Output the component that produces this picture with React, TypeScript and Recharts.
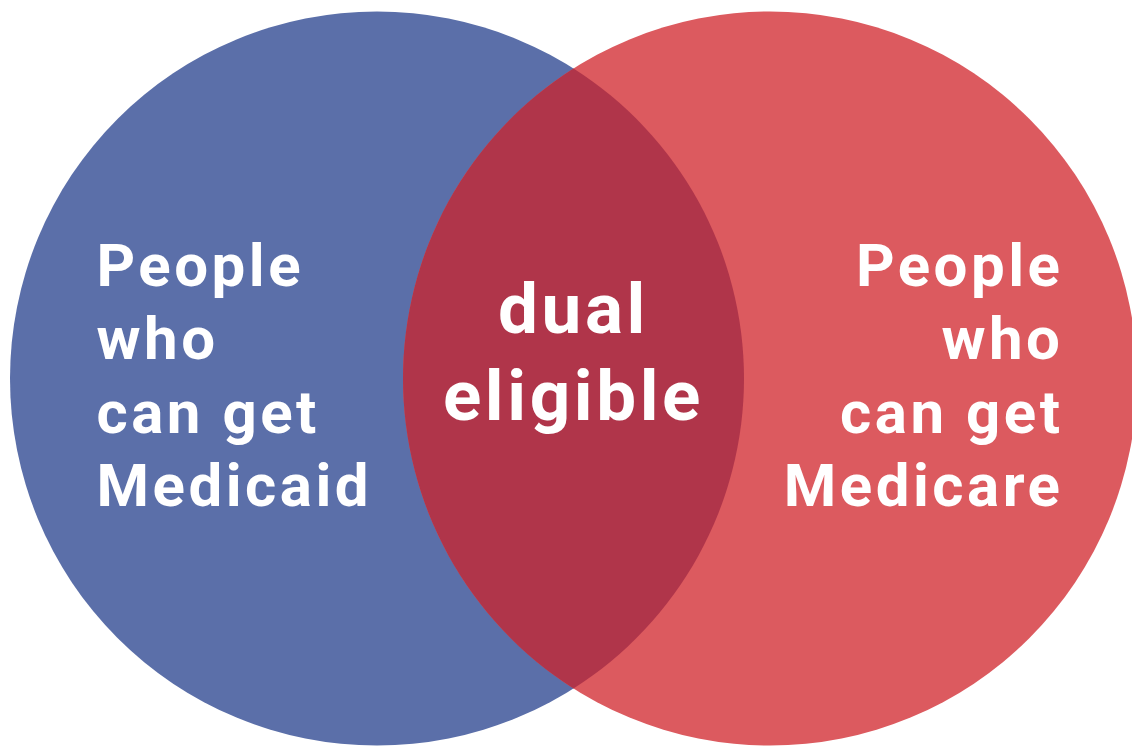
import React from 'react';
import { ScatterChart, Scatter, XAxis, YAxis } from 'recharts';

// Venn sets: center (x, y) and radius r, in chart units (1 unit = 1 px)
const setNames = ['Medicaid', 'Medicare'];
const setX = [377, 770];
const setY = [378.5, 378.5];
const setR = [367, 367];
const setColors = ['#5B6FA9', '#DC5A5F'];
const overlapColor = '#B0354A';

const leftLabel = ['People', 'who', 'can get', 'Medicaid'];
const rightLabel = ['People', 'who', 'can get', 'Medicare'];
const centerLabel = ['dual', 'eligible'];

const W = 1132;
const H = 746;

const circles = setNames.map((name, i) => ({
  name,
  x: setX[i],
  y: setY[i],
  r: setR[i],
  color: setColors[i],
}));

// overlap point: midpoint between the two centers
const overlap = [
  {
    name: 'dual eligible',
    x: (setX[0] + setX[1]) / 2,
    y: (setY[0] + setY[1]) / 2,
  },
];

const FONT = 'Roboto, "DejaVu Sans", sans-serif';

const CircleShape = (props: any) => {
  const { cx, cy, payload } = props;
  return <circle cx={cx} cy={cy} r={payload.r} fill={payload.color} />;
};

const LensShape = (props: any) => {
  const { cx, cy } = props;
  const d = setX[1] - setX[0];
  const r = setR[0];
  const h = Math.sqrt(r * r - (d / 2) * (d / 2));
  const path = `M ${cx} ${cy - h} A ${r} ${r} 0 0 1 ${cx} ${cy + h} A ${r} ${r} 0 0 1 ${cx} ${cy - h} Z`;
  return <path d={path} fill={overlapColor} />;
};

const LabelsShape = (props: any) => {
  const { cx, cy } = props;
  const sideSize = 60;
  const sideStep = 73.3;
  const sideTop = cy - 92.5;
  const centerSize = 71;
  return (
    <g fill="#ffffff" fontFamily={FONT} fontWeight={700}>
      {leftLabel.map((t, i) => (
        <text
          key={'l' + i}
          x={cx - 477}
          y={sideTop + i * sideStep}
          fontSize={sideSize}
          textAnchor="start"
          letterSpacing={3.5}
        >
          {t}
        </text>
      ))}
      {rightLabel.map((t, i) => (
        <text
          key={'r' + i}
          x={cx + 490}
          y={sideTop + i * sideStep}
          fontSize={sideSize}
          textAnchor="end"
          letterSpacing={3.5}
        >
          {t}
        </text>
      ))}
      {centerLabel.map((t, i) => (
        <text
          key={'c' + i}
          x={cx}
          y={cy - 45.5 + i * 87}
          fontSize={centerSize}
          textAnchor="middle"
          letterSpacing={3.6}
        >
          {t}
        </text>
      ))}
    </g>
  );
};

export default function App() {
  return (
    <div style={{ position: 'absolute', left: 0, top: 0, width: W, height: H, background: '#fff' }}>
      <ScatterChart width={W} height={H} margin={{ top: 0, right: 0, bottom: 0, left: 0 }}>
        <XAxis type="number" dataKey="x" domain={[0, W]} hide allowDataOverflow />
        <YAxis type="number" dataKey="y" domain={[0, H]} reversed hide allowDataOverflow />
        <Scatter data={circles} shape={CircleShape} isAnimationActive={false} />
        <Scatter data={overlap} shape={LensShape} isAnimationActive={false} />
        <Scatter data={overlap} shape={LabelsShape} isAnimationActive={false} />
      </ScatterChart>
    </div>
  );
}
